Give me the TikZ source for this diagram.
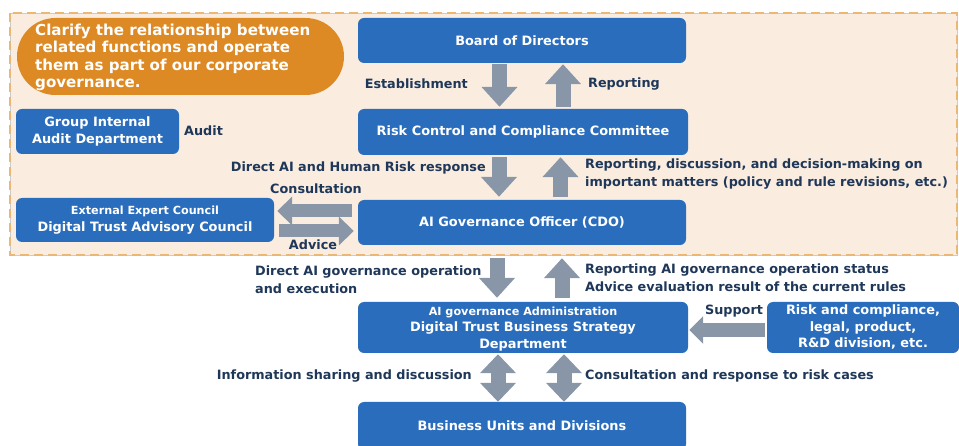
\documentclass[tikz,border=0pt]{standalone}
\usepackage{fontspec}
\setmainfont{DejaVu Sans}
\usetikzlibrary{arrows.meta}
\definecolor{boxblue}{HTML}{2A6DBD}
\definecolor{navy}{HTML}{1F3758}
\definecolor{arrowgray}{HTML}{8896A7}
\definecolor{peach}{HTML}{FAEDE0}
\definecolor{dashorange}{HTML}{EAB874}
\definecolor{pillorange}{HTML}{DD8A25}
\tikzset{
  box/.style={fill=boxblue, rounded corners=6pt, text=white, align=center, inner sep=0pt,
    font=\bfseries\fontsize{12.9}{16.5}\selectfont},
  lbl/.style={text=navy, align=left, inner sep=0pt, font=\bfseries\fontsize{12.8}{18}\selectfont},
  barrow/.style={draw=arrowgray, line width=15pt, -{Triangle[width=35pt,length=20pt]}},
  bdarrow/.style={draw=arrowgray, line width=15pt, {Triangle[width=35pt,length=19pt]}-{Triangle[width=35pt,length=19pt]}},
  harrow/.style={draw=arrowgray, line width=13pt, -{Triangle[width=28pt,length=15pt]}}
}
\begin{document}
\begin{tikzpicture}[x=1pt,y=-1pt]
\useasboundingbox (0,0) rectangle (959,446);
\clip (0,0) rectangle (959,446);
% governance zone
\draw[fill=peach, draw=black!20, line width=0.6pt] (10,13) rectangle (957,255);
\draw[dashorange, line width=2pt, dash pattern=on 9pt off 5pt] (10,13) rectangle (957,255);
% pill
\node[fill=pillorange, rounded corners=38.5pt, minimum width=327pt, minimum height=77pt, inner sep=0pt] (pill) at (180.5,56.5) {};
\node[anchor=north west, text=white, align=left, inner sep=0pt, font=\bfseries\fontsize{15.1}{17.5}\selectfont] (pilltext) at (35,23.5)
 {Clarify the relationship between\\related functions and operate\\them as part of our corporate\\governance.};
% boxes
\node[box, minimum width=328pt, minimum height=45pt] (board) at (522,40.5) {Board of Directors};
\node[box, minimum width=330pt, minimum height=46pt] (risk) at (523,132) {Risk Control and Compliance Committee};
\node[box, minimum width=328pt, minimum height=45pt] (aigov) at (522,222.5) {AI Governance Officer (CDO)};
\node[box, minimum width=163pt, minimum height=45pt] (audit) at (97.5,131.5) {Group Internal\\Audit Department};
\node[box, minimum width=258pt, minimum height=44pt] (ext) at (145,220) {{\fontsize{11.2}{14}\selectfont External Expert Council}\\Digital Trust Advisory Council};
\node[box, minimum width=330pt, minimum height=51pt] (admin) at (523,327.5) {};
\node[text=white, align=center, inner sep=0pt, font=\bfseries\fontsize{12.9}{16.5}\selectfont] (admintext) at ([yshift=-1.5pt]admin.center) {{\fontsize{11.2}{14}\selectfont AI governance Administration}\\Digital Trust Business Strategy\\Department};
\node[box, minimum width=192pt, minimum height=51pt] (riskdiv) at (863,327.5) {Risk and compliance,\\legal, product,\\R\&D division, etc.};
\node[box, minimum width=328pt, minimum height=48pt] (bu) at (522,426) {Business Units and Divisions};
% vertical arrows
\draw[barrow, shorten <=1pt, shorten >=2pt] ([xshift=-22.5pt]board.south) -- ([xshift=-22.5pt]board.south |- risk.north);
\draw[barrow, shorten <=2pt, shorten >=1pt] ([xshift=40pt]risk.north) -- ([xshift=40pt]risk.north |- board.south);
\draw[barrow, shorten <=2pt, shorten >=3pt] ([xshift=-24pt]risk.south) -- ([xshift=-24pt]risk.south |- aigov.north);
\draw[barrow, shorten <=3pt, shorten >=2pt] ([xshift=38.5pt]aigov.north) -- ([xshift=38.5pt]aigov.north |- risk.south);
\draw[barrow, shorten <=13pt, shorten >=4pt] ([xshift=-25pt]aigov.south) -- ([xshift=-25pt]aigov.south |- admin.north);
\draw[barrow, shorten <=4pt, shorten >=13pt] ([xshift=39pt]admin.north) -- ([xshift=39pt]admin.north |- aigov.south);
\draw[bdarrow, shorten <=1pt, shorten >=0pt] ([xshift=-25pt]admin.south) -- ([xshift=-25pt]admin.south |- bu.north);
\draw[bdarrow, shorten <=1pt, shorten >=0pt] ([xshift=41pt]admin.south) -- ([xshift=41pt]admin.south |- bu.north);
% horizontal arrows
\draw[harrow, shorten <=6pt, shorten >=3pt] ([yshift=11.5pt]aigov.west) -- ([yshift=11.5pt]aigov.west -| ext.east);
\draw[harrow, shorten <=5pt, shorten >=4pt] ([yshift=-8.5pt]ext.east |- aigov.west) -- ([yshift=-8.5pt]aigov.west);
\draw[harrow, line width=14pt, -{Triangle[width=27pt,length=14pt]}, shorten <=2pt, shorten >=1pt] ([yshift=-2.5pt]riskdiv.west) -- ([yshift=-2.5pt]riskdiv.west -| admin.east);
% labels
\node[lbl, anchor=east] (l1) at (468,84) {Establishment};
\node[lbl, anchor=west] (l2) at (588,84) {Reporting};
\node[lbl, anchor=west] (l3) at (184,131) {Audit};
\node[lbl, anchor=east] (l4) at (486,168) {Direct AI and Human Risk response};
\node[lbl] (l5) at (316,189) {Consultation};
\node[lbl, anchor=west] (l6) at (585,174) {Reporting, discussion, and decision-making on\\important matters (policy and rule revisions, etc.)};
\node[lbl] (l7) at (313,245) {Advice};
\node[lbl, anchor=west] (l8) at (255,280) {Direct AI governance operation\\and execution};
\node[lbl, anchor=west] (l9) at (585,278) {Reporting AI governance operation status\\Advice evaluation result of the current rules};
\node[lbl] (l10) at (734,311) {Support};
\node[lbl, anchor=east] (l11) at (472,376) {Information sharing and discussion};
\node[lbl, anchor=west] (l12) at (585,376) {Consultation and response to risk cases};
\end{tikzpicture}
\end{document}
